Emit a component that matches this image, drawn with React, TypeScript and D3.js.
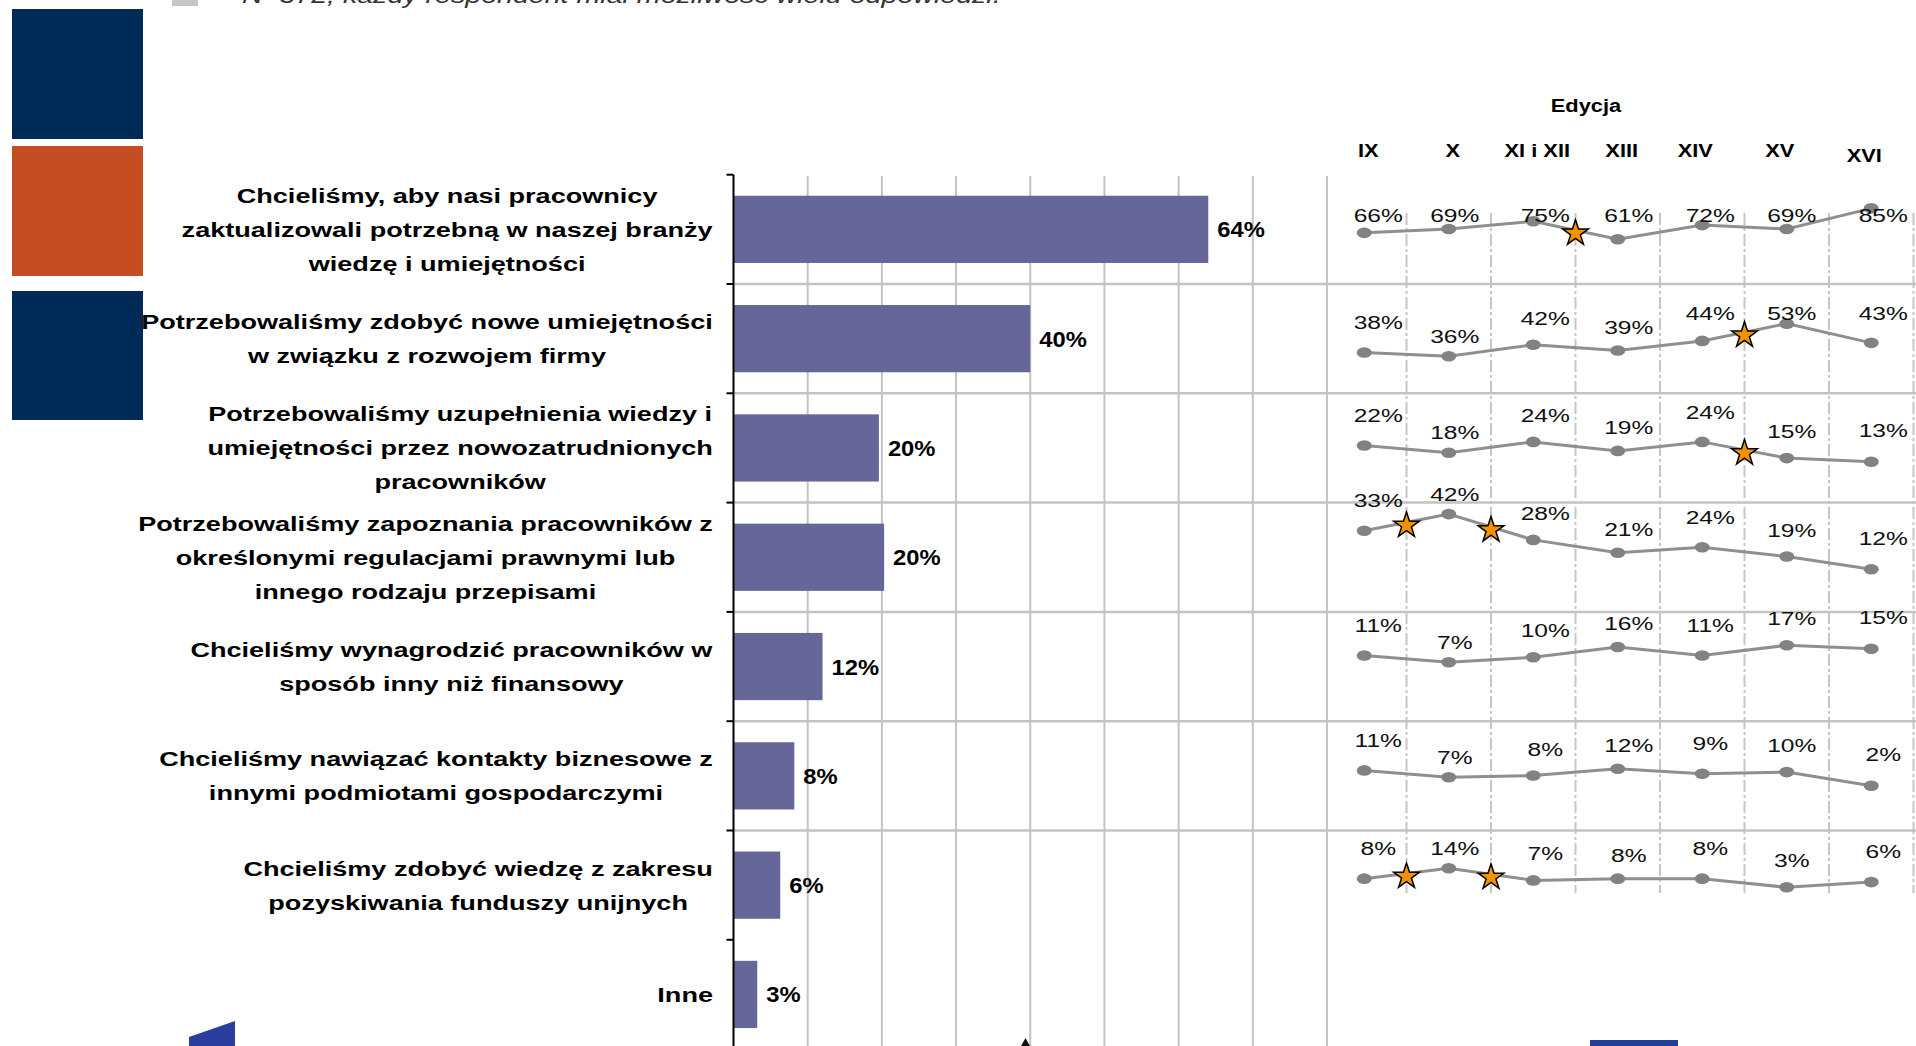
import React, { useEffect, useRef } from 'react';
import * as d3 from 'd3';

const W = 1916;
const H = 1046;

// ---------- DATA ----------
const categoryLines: string[][] = [
  ['Chcieliśmy, aby nasi pracownicy', 'zaktualizowali potrzebną w naszej branży', 'wiedzę i umiejętności'],
  ['Potrzebowaliśmy zdobyć nowe umiejętności', 'w związku z rozwojem firmy'],
  ['Potrzebowaliśmy uzupełnienia wiedzy i', 'umiejętności przez nowozatrudnionych', 'pracowników'],
  ['Potrzebowaliśmy zapoznania pracowników z', 'określonymi regulacjami prawnymi lub', 'innego rodzaju przepisami'],
  ['Chcieliśmy wynagrodzić pracowników w', 'sposób inny niż finansowy'],
  ['Chcieliśmy nawiązać kontakty biznesowe z', 'innymi podmiotami gospodarczymi'],
  ['Chcieliśmy zdobyć wiedzę z zakresu', 'pozyskiwania funduszy unijnych'],
  ['Inne'],
];
const barValues = [64, 40, 19.6, 20.3, 12, 8.2, 6.3, 3.2];
const barLabels = ['64%', '40%', '20%', '20%', '12%', '8%', '6%', '3%'];
const xTicks = [10, 20, 30, 40, 50, 60, 70, 80];

const editions = ['IX', 'X', 'XI i XII', 'XIII', 'XIV', 'XV', 'XVI'];
const trend1 = [66, 69, 75, 61, 72, 69, 85];
const trend2 = [38, 36, 42, 39, 44, 53, 43];
const trend3 = [22, 18, 24, 19, 24, 15, 13];
const trend4 = [33, 42, 28, 21, 24, 19, 12];
const trend5 = [11, 7, 10, 16, 11, 17, 15];
const trend6 = [11, 7, 8, 12, 9, 10, 2];
const trend7 = [8, 14, 7, 8, 8, 3, 6];
const trends = [trend1, trend2, trend3, trend4, trend5, trend6, trend7];
// star = significant change between edition i and i+1
const stars1 = [2];
const stars2 = [4];
const stars3 = [4];
const stars4 = [0, 1];
const stars5: number[] = [];
const stars6: number[] = [];
const stars7 = [0, 1];
const starsAll = [stars1, stars2, stars3, stars4, stars5, stars6, stars7];

const noteText = 'N=372; każdy respondent miał możliwość wielu odpowiedzi.';
const panelTitle = 'Edycja';

// ---------- LAYOUT (not data) ----------
const rowPxPerPct = [1.29, 1.92, 1.8, 1.84, 1.7, 1.7, 1.73];
const rowZeroOffset = [143.3, 141.4, 91.8, 88.8, 62.3, 67.9, 62];
const rowLabelMin = [40.3, 29.3, -99, -99, -99, -99, -99];
const colLabelLift = [30, 20, 26.5, 23.5, 30, 26.5, 31];
const colLabelShift = [14, 6, 12, 11, 8, 5, 12];

const FONT = '"Liberation Sans", Arial, sans-serif';

export default function App() {
  const ref = useRef<SVGSVGElement>(null);

  useEffect(() => {
    const svg = d3.select(ref.current as SVGSVGElement);
    svg.selectAll('*').remove();

    const top = 174.7;
    const step = 109.3;
    const y = d3
      .scaleBand<number>()
      .domain(d3.range(categoryLines.length))
      .range([top, top + step * categoryLines.length])
      .paddingInner(0.385)
      .paddingOuter(0.1925);
    const x = d3.scaleLinear().domain([0, 80]).range([733.5, 1327]);
    const xe = d3.scaleBand<string>().domain(editions).range([1322, 1913.5]);
    const px = (e: string) => (xe(e) as number) + xe.bandwidth() / 2;
    const rowTop = (i: number) => top + step * i;

    // left colour blocks
    const blocks = [
      { y: 9, h: 130, c: '#002B57' },
      { y: 146, h: 130, c: '#C44D22' },
      { y: 291, h: 129, c: '#002B57' },
    ];
    svg
      .selectAll('rect.block')
      .data(blocks)
      .join('rect')
      .attr('x', 12)
      .attr('y', (d) => d.y)
      .attr('width', 131)
      .attr('height', (d) => d.h)
      .attr('fill', (d) => d.c);

    // top note (cut off at the top edge, as in the source)
    svg.append('rect').attr('x', 172).attr('y', 0).attr('width', 26).attr('height', 6).attr('fill', '#c6c6c6');
    svg
      .append('text')
      .attr('transform', 'translate(242,3) scale(1.3,1)')
      .attr('font-family', FONT)
      .attr('font-style', 'italic')
      .attr('font-size', 22)
      .attr('fill', '#333')
      .text(noteText);

    // vertical gridlines
    svg
      .selectAll('line.grid')
      .data(xTicks)
      .join('line')
      .attr('x1', (d) => x(d))
      .attr('x2', (d) => x(d))
      .attr('y1', 176)
      .attr('y2', H)
      .attr('stroke', '#c3c3c3')
      .attr('stroke-width', 2);

    // right panel dashed column boundaries
    const bounds = editions.map((e) => (xe(e) as number) + xe.bandwidth());
    svg
      .selectAll('line.dash')
      .data(bounds)
      .join('line')
      .attr('x1', (d) => d)
      .attr('x2', (d) => d)
      .attr('y1', 213)
      .attr('y2', 893)
      .attr('stroke', '#c6c6c6')
      .attr('stroke-width', 2)
      .attr('stroke-dasharray', '12,3,3,3');

    // horizontal separators
    svg
      .selectAll('line.sep')
      .data(d3.range(1, 7))
      .join('line')
      .attr('x1', x(0))
      .attr('x2', W)
      .attr('y1', (d) => rowTop(d))
      .attr('y2', (d) => rowTop(d))
      .attr('stroke', '#c3c3c3')
      .attr('stroke-width', 2.5);

    // bars
    svg
      .selectAll('rect.bar')
      .data(barValues)
      .join('rect')
      .attr('x', x(0))
      .attr('y', (_, i) => y(i) as number)
      .attr('width', (d) => x(d) - x(0))
      .attr('height', y.bandwidth())
      .attr('fill', '#666699');

    // bar value labels
    svg
      .selectAll('text.val')
      .data(barValues)
      .join('text')
      .attr(
        'transform',
        (d, i) => `translate(${x(d) + 9},${(y(i) as number) + y.bandwidth() / 2 + 8}) scale(1.08,1)`
      )
      .attr('font-family', FONT)
      .attr('font-weight', 'bold')
      .attr('font-size', 22)
      .attr('fill', '#000')
      .text((_, i) => barLabels[i]);

    // axis
    svg
      .append('line')
      .attr('x1', x(0))
      .attr('x2', x(0))
      .attr('y1', top)
      .attr('y2', H)
      .attr('stroke', '#000')
      .attr('stroke-width', 2);
    svg
      .selectAll('line.tick')
      .data(d3.range(0, 8))
      .join('line')
      .attr('x1', x(0) - 7)
      .attr('x2', x(0))
      .attr('y1', (d) => rowTop(d))
      .attr('y2', (d) => rowTop(d))
      .attr('stroke', '#000')
      .attr('stroke-width', 2);

    // category labels (lines centred in a right-aligned block)
    const sxL = 1.29;
    const lineH = 34;
    categoryLines.forEach((lines, i) => {
      const cy = (y(i) as number) + y.bandwidth() / 2;
      const g = svg.append('g');
      lines.forEach((ln, j) => {
        g.append('text')
          .attr('x', 0)
          .attr('y', (j - (lines.length - 1) / 2) * lineH + 7.5)
          .attr('text-anchor', 'middle')
          .attr('font-family', FONT)
          .attr('font-weight', 'bold')
          .attr('font-size', 21)
          .attr('fill', '#000')
          .text(ln);
      });
      const w = (g.node() as SVGGElement).getBBox().width;
      g.attr('transform', `translate(${713 - (w * sxL) / 2},${cy}) scale(${sxL},1)`);
    });

    // panel headers
    svg
      .append('text')
      .attr('transform', 'translate(1586,112) scale(1.15,1)')
      .attr('text-anchor', 'middle')
      .attr('font-family', '"Liberation Sans Narrow", "Liberation Sans", sans-serif')
      .attr('font-weight', 'bold')
      .attr('font-size', 19)
      .text(panelTitle);
    svg
      .selectAll('text.ed')
      .data(editions)
      .join('text')
      .attr('transform', (d, i) => `translate(${px(d) + (i < 4 ? 4 : -7)},${i === 6 ? 162 : 157}) scale(1.15,1)`)
      .attr('text-anchor', 'middle')
      .attr('font-family', '"Liberation Sans Narrow", "Liberation Sans", sans-serif')
      .attr('font-weight', 'bold')
      .attr('font-size', 19)
      .text((d) => d);

    // trend rows
    const starPath = d3.symbol().type(d3.symbolStar).size(205)();
    trends.forEach((vals, r) => {
      const ys = d3
        .scaleLinear()
        .domain([0, 100])
        .range([rowTop(r) + rowZeroOffset[r], rowTop(r) + rowZeroOffset[r] - 100 * rowPxPerPct[r]]);
      const pts = vals.map((v, i) => ({ v, x: px(editions[i]), y: ys(v), i }));
      const line = d3
        .line<{ x: number; y: number }>()
        .x((d) => d.x)
        .y((d) => d.y);
      const g = svg.append('g');
      g.append('path')
        .attr('d', line(pts) as string)
        .attr('fill', 'none')
        .attr('stroke', '#8f8f8f')
        .attr('stroke-width', 3);
      g.selectAll('ellipse')
        .data(pts)
        .join('ellipse')
        .attr('cx', (d) => d.x)
        .attr('cy', (d) => d.y)
        .attr('rx', 7.5)
        .attr('ry', 5.3)
        .attr('fill', '#828282');
      g.selectAll('path.star')
        .data(starsAll[r])
        .join('path')
        .attr('class', 'star')
        .attr('d', starPath)
        .attr('transform', (s) => {
          const a = pts[s];
          const b = pts[s + 1];
          return `translate(${(a.x + b.x) / 2},${(a.y + b.y) / 2 + 3})`;
        })
        .attr('fill', '#F39200')
        .attr('stroke', '#000')
        .attr('stroke-width', 1.5);
      g.selectAll('text')
        .data(pts)
        .join('text')
        .attr('transform', (d) => {
          const cy = Math.max(d.y - colLabelLift[d.i], rowTop(r) + rowLabelMin[r]);
          return `translate(${d.x + colLabelShift[d.i]},${cy + 6.6}) scale(1.33,1)`;
        })
        .attr('text-anchor', 'middle')
        .attr('font-family', FONT)
        .attr('font-size', 18.5)
        .attr('fill', '#111')
        .text((d) => `${d.v}%`);
    });

    // cut-off logos at the bottom edge
    svg.append('polygon').attr('points', '189,1037 235,1021 235,1046 189,1046').attr('fill', '#2a3f9d');
    svg.append('polygon').attr('points', '1021,1046 1025.5,1038 1030,1046').attr('fill', '#111');
    svg.append('rect').attr('x', 1590).attr('y', 1040).attr('width', 88).attr('height', 6).attr('fill', '#1f3f99');
  }, []);

  return (
    <svg
      ref={ref}
      width={W}
      height={H}
      style={{ position: 'absolute', left: 0, top: 0, background: '#fff' }}
    />
  );
}
